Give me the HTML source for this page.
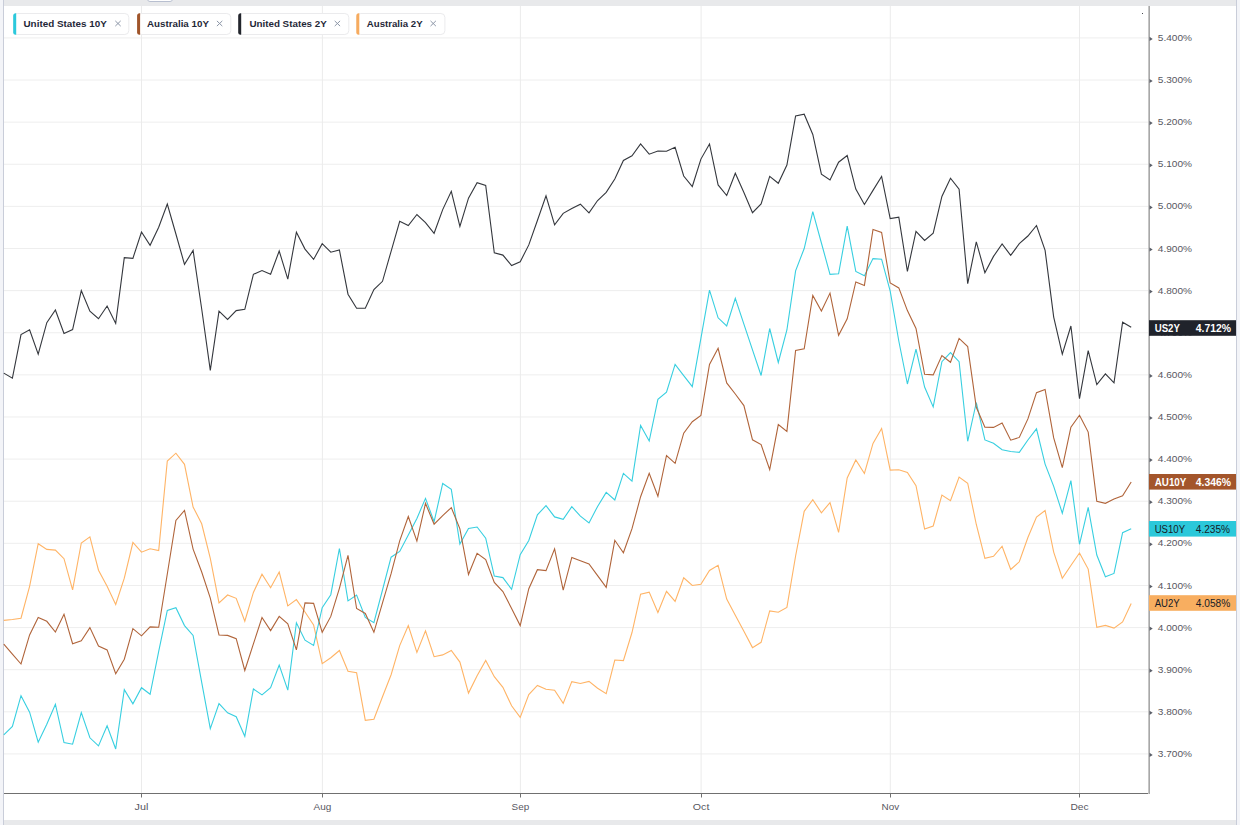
<!DOCTYPE html>
<html><head><meta charset="utf-8"><style>
html,body{margin:0;padding:0;}
body{width:1240px;height:825px;overflow:hidden;background:#f3f4f8;position:relative;font-family:"Liberation Sans",sans-serif;}
#top{position:absolute;left:4px;top:0;width:1232px;height:6px;background:#e8e9eb;}
#bot{position:absolute;left:4px;top:820px;width:1232px;height:5px;background:#e8e9eb;}
#panel{position:absolute;left:4px;top:6px;width:1232px;height:814px;background:#fff;}
#lb{position:absolute;left:3px;top:0;width:1px;height:825px;background:#c9cdd9;}
#rb{position:absolute;left:1236px;top:0;width:1px;height:825px;background:#c9cdd9;}
#tab{position:absolute;left:147px;top:-3px;width:24px;height:3px;background:#fff;border:1px solid #b8bfd0;border-radius:0 0 3px 3px;}
svg{position:absolute;left:0;top:0;}
.ax{font-family:"Liberation Sans",sans-serif;font-size:9.9px;fill:#58585f;}
.tg{font-family:"Liberation Sans",sans-serif;font-size:10px;}
.ch{font-family:"Liberation Sans",sans-serif;font-size:9.9px;font-weight:bold;fill:#1f2838;}
</style></head><body>
<div id="top"></div><div id="bot"></div>
<div id="panel"></div>
<div id="lb"></div><div id="rb"></div>
<div id="tab"></div>
<svg width="1240" height="825" viewBox="0 0 1240 825">
<line x1="4" y1="37.90" x2="1148" y2="37.90" stroke="#eeeeee" stroke-width="1"/>
<line x1="4" y1="80.02" x2="1148" y2="80.02" stroke="#eeeeee" stroke-width="1"/>
<line x1="4" y1="122.14" x2="1148" y2="122.14" stroke="#eeeeee" stroke-width="1"/>
<line x1="4" y1="164.26" x2="1148" y2="164.26" stroke="#eeeeee" stroke-width="1"/>
<line x1="4" y1="206.38" x2="1148" y2="206.38" stroke="#eeeeee" stroke-width="1"/>
<line x1="4" y1="248.50" x2="1148" y2="248.50" stroke="#eeeeee" stroke-width="1"/>
<line x1="4" y1="290.62" x2="1148" y2="290.62" stroke="#eeeeee" stroke-width="1"/>
<line x1="4" y1="332.74" x2="1148" y2="332.74" stroke="#eeeeee" stroke-width="1"/>
<line x1="4" y1="374.86" x2="1148" y2="374.86" stroke="#eeeeee" stroke-width="1"/>
<line x1="4" y1="416.98" x2="1148" y2="416.98" stroke="#eeeeee" stroke-width="1"/>
<line x1="4" y1="459.10" x2="1148" y2="459.10" stroke="#eeeeee" stroke-width="1"/>
<line x1="4" y1="501.22" x2="1148" y2="501.22" stroke="#eeeeee" stroke-width="1"/>
<line x1="4" y1="543.34" x2="1148" y2="543.34" stroke="#eeeeee" stroke-width="1"/>
<line x1="4" y1="585.46" x2="1148" y2="585.46" stroke="#eeeeee" stroke-width="1"/>
<line x1="4" y1="627.58" x2="1148" y2="627.58" stroke="#eeeeee" stroke-width="1"/>
<line x1="4" y1="669.70" x2="1148" y2="669.70" stroke="#eeeeee" stroke-width="1"/>
<line x1="4" y1="711.82" x2="1148" y2="711.82" stroke="#eeeeee" stroke-width="1"/>
<line x1="4" y1="753.94" x2="1148" y2="753.94" stroke="#eeeeee" stroke-width="1"/>
<line x1="141.5" y1="6" x2="141.5" y2="793" stroke="#ebebeb" stroke-width="1"/>
<line x1="322.4" y1="6" x2="322.4" y2="793" stroke="#ebebeb" stroke-width="1"/>
<line x1="520.4" y1="6" x2="520.4" y2="793" stroke="#ebebeb" stroke-width="1"/>
<line x1="701.1" y1="6" x2="701.1" y2="793" stroke="#ebebeb" stroke-width="1"/>
<line x1="890.3" y1="6" x2="890.3" y2="793" stroke="#ebebeb" stroke-width="1"/>
<line x1="1079.5" y1="6" x2="1079.5" y2="793" stroke="#ebebeb" stroke-width="1"/>
<polyline fill="none" stroke="#ffb466" stroke-width="1.1" stroke-linejoin="miter" points="3.8,620.4 12.4,619.5 21.0,618.2 29.6,586.3 38.2,543.7 46.8,549.4 55.4,550.1 64.0,558.7 72.6,589.8 81.3,543.0 89.9,536.8 98.5,570.2 107.1,586.3 115.7,604.5 124.3,578.2 132.9,542.5 141.5,552.2 150.1,548.7 158.7,550.6 167.3,461.0 175.9,453.2 184.5,464.3 193.1,507.0 201.7,523.8 210.3,558.4 219.0,602.9 227.6,595.0 236.2,598.3 244.8,621.2 253.4,592.4 262.0,574.2 270.6,587.7 279.2,572.0 287.8,605.9 296.4,599.6 305.0,612.0 313.6,625.0 322.2,663.7 330.8,657.7 339.4,650.5 348.0,671.2 356.6,672.8 365.3,720.3 373.9,719.3 382.5,696.8 391.1,674.7 399.7,645.6 408.3,625.5 416.9,652.4 425.5,630.8 434.1,656.7 442.7,654.9 451.3,650.5 459.9,662.1 468.5,693.1 477.1,675.7 485.7,660.5 494.3,676.7 502.9,687.3 511.6,705.8 520.2,717.4 528.8,694.5 537.4,685.4 546.0,689.3 554.6,690.2 563.2,703.4 571.8,681.6 580.4,683.5 589.0,681.4 597.6,688.2 606.2,693.6 614.8,660.0 623.4,660.6 632.0,632.5 640.6,594.2 649.2,592.1 657.9,612.5 666.5,591.3 675.1,601.4 683.7,577.8 692.3,585.5 700.9,584.2 709.5,570.5 718.1,565.3 726.7,599.1 735.3,615.2 743.9,631.2 752.5,647.6 761.1,642.3 769.7,610.9 778.3,612.3 786.9,607.4 795.6,556.0 804.2,511.3 812.8,499.6 821.4,512.8 830.0,502.6 838.6,532.3 847.2,477.9 855.8,459.9 864.4,473.5 873.0,443.4 881.6,428.5 890.2,470.1 898.8,469.7 907.4,472.4 916.0,485.7 924.6,529.0 933.2,526.0 941.9,495.0 950.5,500.6 959.1,477.1 967.7,483.2 976.3,524.5 984.9,558.4 993.5,556.3 1002.1,546.2 1010.7,569.5 1019.3,561.8 1027.9,537.5 1036.5,517.0 1045.1,510.5 1053.7,552.1 1062.3,578.2 1070.9,565.5 1079.5,553.0 1088.2,569.1 1096.8,627.3 1105.4,625.4 1114.0,628.1 1122.6,621.9 1131.2,603.5"/>
<polyline fill="none" stroke="#38cfe0" stroke-width="1.1" stroke-linejoin="miter" points="3.8,734.9 12.4,726.5 21.0,695.7 29.6,712.2 38.2,742.2 46.8,724.2 55.4,704.2 64.0,742.6 72.6,744.2 81.3,712.6 89.9,737.8 98.5,745.9 107.1,725.8 115.7,749.0 124.3,689.7 132.9,703.8 141.5,687.7 150.1,694.3 158.7,651.3 167.3,610.5 175.9,607.7 184.5,625.6 193.1,635.4 201.7,682.3 210.3,728.7 219.0,703.6 227.6,712.8 236.2,716.7 244.8,736.3 253.4,689.0 262.0,694.9 270.6,687.7 279.2,665.0 287.8,690.1 296.4,622.8 305.0,640.2 313.6,645.5 322.2,607.7 330.8,594.7 339.4,548.5 348.0,600.9 356.6,595.1 365.3,617.4 373.9,622.6 382.5,590.0 391.1,557.2 399.7,551.4 408.3,535.0 416.9,518.4 425.5,498.4 434.1,521.7 442.7,483.5 451.3,489.3 459.9,544.0 468.5,528.5 477.1,527.0 485.7,538.2 494.3,576.1 502.9,577.6 511.6,589.3 520.2,554.7 528.8,540.5 537.4,514.9 546.0,505.6 554.6,516.9 563.2,519.4 571.8,506.7 580.4,516.1 589.0,522.9 597.6,506.4 606.2,492.4 614.8,500.0 623.4,473.4 632.0,481.1 640.6,425.4 649.2,441.0 657.9,399.3 666.5,392.2 675.1,364.4 683.7,375.7 692.3,386.7 700.9,338.4 709.5,290.1 718.1,317.8 726.7,326.0 735.3,298.4 743.9,324.2 752.5,349.9 761.1,375.5 769.7,328.5 778.3,362.5 786.9,330.0 795.6,270.8 804.2,248.5 812.8,211.6 821.4,243.0 830.0,274.3 838.6,273.7 847.2,226.2 855.8,271.4 864.4,275.7 873.0,258.6 881.6,259.2 890.2,291.2 898.8,341.0 907.4,384.0 916.0,349.1 924.6,387.0 933.2,406.9 941.9,361.7 950.5,352.6 959.1,361.7 967.7,441.3 976.3,402.5 984.9,439.9 993.5,443.2 1002.1,449.8 1010.7,451.5 1019.3,452.4 1027.9,440.0 1036.5,428.8 1045.1,464.1 1053.7,486.4 1062.3,513.2 1070.9,480.6 1079.5,544.3 1088.2,507.4 1096.8,555.0 1105.4,576.7 1114.0,573.4 1122.6,532.7 1131.2,528.8"/>
<polyline fill="none" stroke="#b0643a" stroke-width="1.1" stroke-linejoin="miter" points="3.8,644.2 12.4,654.1 21.0,664.0 29.6,634.9 38.2,617.5 46.8,621.3 55.4,632.0 64.0,614.2 72.6,643.7 81.3,640.8 89.9,627.6 98.5,646.0 107.1,649.9 115.7,673.7 124.3,659.2 132.9,628.7 141.5,635.8 150.1,626.9 158.7,627.3 167.3,574.0 175.9,520.5 184.5,510.4 193.1,549.1 201.7,572.0 210.3,598.2 219.0,635.0 227.6,635.4 236.2,638.7 244.8,670.5 253.4,643.9 262.0,617.5 270.6,630.6 279.2,616.4 287.8,623.8 296.4,649.9 305.0,602.9 313.6,603.4 322.2,632.3 330.8,616.4 339.4,588.3 348.0,555.3 356.6,608.5 365.3,613.4 373.9,632.3 382.5,602.9 391.1,573.7 399.7,540.8 408.3,516.5 416.9,541.1 425.5,503.4 434.1,524.2 442.7,515.7 451.3,507.6 459.9,528.9 468.5,574.5 477.1,553.4 485.7,559.6 494.3,582.5 502.9,591.6 511.6,608.4 520.2,625.6 528.8,588.7 537.4,569.7 546.0,570.6 554.6,548.9 563.2,590.2 571.8,557.4 580.4,560.7 589.0,564.0 597.6,575.7 606.2,587.3 614.8,540.3 623.4,552.7 632.0,528.7 640.6,496.7 649.2,473.4 657.9,496.3 666.5,455.5 675.1,463.3 683.7,433.2 692.3,421.7 700.9,415.5 709.5,364.4 718.1,348.3 726.7,382.9 735.3,394.0 743.9,405.6 752.5,439.8 761.1,444.6 769.7,469.7 778.3,424.6 786.9,431.4 795.6,350.4 804.2,348.8 812.8,295.5 821.4,311.0 830.0,293.1 838.6,335.3 847.2,318.8 855.8,281.9 864.4,285.4 873.0,229.5 881.6,232.4 890.2,283.0 898.8,287.9 907.4,310.6 916.0,328.4 924.6,374.3 933.2,374.9 941.9,355.5 950.5,362.3 959.1,338.4 967.7,346.6 976.3,407.3 984.9,427.1 993.5,427.4 1002.1,423.1 1010.7,440.2 1019.3,437.4 1027.9,418.9 1036.5,392.7 1045.1,389.4 1053.7,437.9 1062.3,467.6 1070.9,427.2 1079.5,415.2 1088.2,432.1 1096.8,501.3 1105.4,503.3 1114.0,499.0 1122.6,495.7 1131.2,482.0"/>
<polyline fill="none" stroke="#34373d" stroke-width="1.1" stroke-linejoin="miter" points="3.8,373.1 12.4,378.2 21.0,334.6 29.6,329.7 38.2,354.2 46.8,322.7 55.4,310.0 64.0,333.4 72.6,329.5 81.3,290.6 89.9,311.2 98.5,318.7 107.1,306.0 115.7,323.4 124.3,257.7 132.9,258.3 141.5,232.0 150.1,245.3 158.7,227.3 167.3,204.0 175.9,234.0 184.5,264.4 193.1,250.4 201.7,309.0 210.3,370.4 219.0,311.2 227.6,319.4 236.2,310.6 244.8,309.3 253.4,274.3 262.0,270.5 270.6,274.3 279.2,251.0 287.8,279.2 296.4,232.2 305.0,249.1 313.6,259.4 322.2,243.7 330.8,252.2 339.4,250.0 348.0,294.2 356.6,308.2 365.3,308.2 373.9,289.6 382.5,281.3 391.1,251.3 399.7,221.3 408.3,225.5 416.9,214.5 425.5,222.7 434.1,233.3 442.7,209.6 451.3,191.3 459.9,226.4 468.5,198.2 477.1,182.7 485.7,185.5 494.3,252.7 502.9,255.1 511.6,265.5 520.2,261.8 528.8,244.9 537.4,220.5 546.0,195.8 554.6,224.9 563.2,213.3 571.8,208.5 580.4,204.2 589.0,212.9 597.6,200.5 606.2,192.4 614.8,179.1 623.4,160.4 632.0,155.8 640.6,144.0 649.2,154.2 657.9,151.1 666.5,151.3 675.1,147.3 683.7,176.0 692.3,186.5 700.9,159.1 709.5,144.0 718.1,184.9 726.7,195.5 735.3,173.3 743.9,192.5 752.5,212.7 761.1,204.0 769.7,176.4 778.3,183.3 786.9,165.1 795.6,116.0 804.2,114.2 812.8,134.5 821.4,174.2 830.0,180.0 838.6,162.2 847.2,155.5 855.8,189.1 864.4,204.5 873.0,190.4 881.6,176.4 890.2,218.5 898.8,217.1 907.4,271.3 916.0,231.3 924.6,240.5 933.2,233.1 941.9,196.4 950.5,178.2 959.1,189.1 967.7,283.6 976.3,241.8 984.9,272.7 993.5,256.4 1002.1,244.0 1010.7,255.4 1019.3,243.7 1027.9,236.0 1036.5,225.5 1045.1,250.4 1053.7,317.1 1062.3,354.1 1070.9,326.0 1079.5,398.6 1088.2,350.7 1096.8,384.6 1105.4,373.9 1114.0,382.8 1122.6,322.2 1131.2,327.3"/>
<line x1="4" y1="793.5" x2="1149" y2="793.5" stroke="#707070" stroke-width="1"/>
<rect x="1148" y="6" width="1" height="788" fill="#c6c6c6"/><rect x="1149" y="6" width="1" height="788" fill="#a8a8a8"/>
<line x1="141.5" y1="793" x2="141.5" y2="797.5" stroke="#707070" stroke-width="1"/>
<text x="134.6" y="810" class="ax" textLength="13.8" lengthAdjust="spacingAndGlyphs">Jul</text>
<line x1="322.5" y1="793" x2="322.5" y2="797.5" stroke="#707070" stroke-width="1"/>
<text x="313.5" y="810" class="ax" textLength="17.8" lengthAdjust="spacingAndGlyphs">Aug</text>
<line x1="520.5" y1="793" x2="520.5" y2="797.5" stroke="#707070" stroke-width="1"/>
<text x="511.6" y="810" class="ax" textLength="17.6" lengthAdjust="spacingAndGlyphs">Sep</text>
<line x1="701.5" y1="793" x2="701.5" y2="797.5" stroke="#707070" stroke-width="1"/>
<text x="692.8" y="810" class="ax" textLength="16.6" lengthAdjust="spacingAndGlyphs">Oct</text>
<line x1="890.5" y1="793" x2="890.5" y2="797.5" stroke="#707070" stroke-width="1"/>
<text x="881.5" y="810" class="ax" textLength="17.6" lengthAdjust="spacingAndGlyphs">Nov</text>
<line x1="1079.5" y1="793" x2="1079.5" y2="797.5" stroke="#707070" stroke-width="1"/>
<text x="1070.4" y="810" class="ax" textLength="18.2" lengthAdjust="spacingAndGlyphs">Dec</text>
<path d="M1149.5 36.8 L1152.7 38.9 L1149.5 41.0 Z" fill="#5b5f69"/>
<text x="1157.8" y="40.9" class="ax" textLength="34.2" lengthAdjust="spacingAndGlyphs">5.400%</text>
<path d="M1149.5 78.9 L1152.7 81.0 L1149.5 83.1 Z" fill="#5b5f69"/>
<text x="1157.8" y="83.0" class="ax" textLength="34.2" lengthAdjust="spacingAndGlyphs">5.300%</text>
<path d="M1149.5 121.0 L1152.7 123.1 L1149.5 125.2 Z" fill="#5b5f69"/>
<text x="1157.8" y="125.1" class="ax" textLength="34.2" lengthAdjust="spacingAndGlyphs">5.200%</text>
<path d="M1149.5 163.2 L1152.7 165.3 L1149.5 167.4 Z" fill="#5b5f69"/>
<text x="1157.8" y="167.3" class="ax" textLength="34.2" lengthAdjust="spacingAndGlyphs">5.100%</text>
<path d="M1149.5 205.3 L1152.7 207.4 L1149.5 209.5 Z" fill="#5b5f69"/>
<text x="1157.8" y="209.4" class="ax" textLength="34.2" lengthAdjust="spacingAndGlyphs">5.000%</text>
<path d="M1149.5 247.4 L1152.7 249.5 L1149.5 251.6 Z" fill="#5b5f69"/>
<text x="1157.8" y="251.5" class="ax" textLength="34.2" lengthAdjust="spacingAndGlyphs">4.900%</text>
<path d="M1149.5 289.5 L1152.7 291.6 L1149.5 293.7 Z" fill="#5b5f69"/>
<text x="1157.8" y="293.6" class="ax" textLength="34.2" lengthAdjust="spacingAndGlyphs">4.800%</text>
<path d="M1149.5 331.6 L1152.7 333.7 L1149.5 335.8 Z" fill="#5b5f69"/>
<text x="1157.8" y="335.7" class="ax" textLength="34.2" lengthAdjust="spacingAndGlyphs">4.700%</text>
<path d="M1149.5 373.8 L1152.7 375.9 L1149.5 378.0 Z" fill="#5b5f69"/>
<text x="1157.8" y="377.9" class="ax" textLength="34.2" lengthAdjust="spacingAndGlyphs">4.600%</text>
<path d="M1149.5 415.9 L1152.7 418.0 L1149.5 420.1 Z" fill="#5b5f69"/>
<text x="1157.8" y="420.0" class="ax" textLength="34.2" lengthAdjust="spacingAndGlyphs">4.500%</text>
<path d="M1149.5 458.0 L1152.7 460.1 L1149.5 462.2 Z" fill="#5b5f69"/>
<text x="1157.8" y="462.1" class="ax" textLength="34.2" lengthAdjust="spacingAndGlyphs">4.400%</text>
<path d="M1149.5 500.1 L1152.7 502.2 L1149.5 504.3 Z" fill="#5b5f69"/>
<text x="1157.8" y="504.2" class="ax" textLength="34.2" lengthAdjust="spacingAndGlyphs">4.300%</text>
<path d="M1149.5 542.2 L1152.7 544.3 L1149.5 546.4 Z" fill="#5b5f69"/>
<text x="1157.8" y="546.3" class="ax" textLength="34.2" lengthAdjust="spacingAndGlyphs">4.200%</text>
<path d="M1149.5 584.4 L1152.7 586.5 L1149.5 588.6 Z" fill="#5b5f69"/>
<text x="1157.8" y="588.5" class="ax" textLength="34.2" lengthAdjust="spacingAndGlyphs">4.100%</text>
<path d="M1149.5 626.5 L1152.7 628.6 L1149.5 630.7 Z" fill="#5b5f69"/>
<text x="1157.8" y="630.6" class="ax" textLength="34.2" lengthAdjust="spacingAndGlyphs">4.000%</text>
<path d="M1149.5 668.6 L1152.7 670.7 L1149.5 672.8 Z" fill="#5b5f69"/>
<text x="1157.8" y="672.7" class="ax" textLength="34.2" lengthAdjust="spacingAndGlyphs">3.900%</text>
<path d="M1149.5 710.7 L1152.7 712.8 L1149.5 714.9 Z" fill="#5b5f69"/>
<text x="1157.8" y="714.8" class="ax" textLength="34.2" lengthAdjust="spacingAndGlyphs">3.800%</text>
<path d="M1149.5 752.8 L1152.7 754.9 L1149.5 757.0 Z" fill="#5b5f69"/>
<text x="1157.8" y="756.9" class="ax" textLength="34.2" lengthAdjust="spacingAndGlyphs">3.700%</text>
<rect x="1149" y="320.2" width="87" height="15.6" fill="#20232b"/>
<text x="1154.7" y="332.1" class="tg" fill="#ffffff" font-weight="bold" textLength="25.2" lengthAdjust="spacingAndGlyphs">US2Y</text>
<text x="1195.8" y="332.1" class="tg" fill="#ffffff" font-weight="bold" textLength="35.2" lengthAdjust="spacingAndGlyphs">4.712%</text>
<rect x="1149" y="474.0" width="87" height="15.6" fill="#a3552b"/>
<text x="1154.7" y="485.9" class="tg" fill="#ffffff" font-weight="bold" textLength="31.7" lengthAdjust="spacingAndGlyphs">AU10Y</text>
<text x="1195.8" y="485.9" class="tg" fill="#ffffff" font-weight="bold" textLength="35.2" lengthAdjust="spacingAndGlyphs">4.346%</text>
<rect x="1149" y="521.0" width="87" height="15.6" fill="#2bc8da"/>
<text x="1154.7" y="532.9" class="tg" fill="#161b26" font-weight="normal" textLength="30.4" lengthAdjust="spacingAndGlyphs">US10Y</text>
<text x="1195.8" y="532.9" class="tg" fill="#161b26" font-weight="normal" textLength="34.2" lengthAdjust="spacingAndGlyphs">4.235%</text>
<rect x="1149" y="595.2" width="87" height="15.6" fill="#f8ae60"/>
<text x="1154.7" y="607.1" class="tg" fill="#161b26" font-weight="normal" textLength="25.0" lengthAdjust="spacingAndGlyphs">AU2Y</text>
<text x="1195.8" y="607.1" class="tg" fill="#161b26" font-weight="normal" textLength="34.5" lengthAdjust="spacingAndGlyphs">4.058%</text>
<rect x="13.7" y="13.5" width="115.1" height="21" rx="4" fill="#fff" stroke="#ebebed" stroke-width="1"/>
<path d="M16.2 13.3 L16.2 34.7 L15.7 34.7 A2.5 2.5 0 0 1 13.2 32.2 L13.2 15.8 A2.5 2.5 0 0 1 15.7 13.3 Z" fill="#2bc9dc"/>
<text x="23.5" y="27.2" class="ch" textLength="83.3" lengthAdjust="spacingAndGlyphs">United States 10Y</text>
<path d="M115.3 20.9 L120.7 26.1 M120.7 20.9 L115.3 26.1" stroke="#8d97a8" stroke-width="1"/>
<rect x="137.6" y="13.5" width="93.2" height="21" rx="4" fill="#fff" stroke="#ebebed" stroke-width="1"/>
<path d="M140.1 13.3 L140.1 34.7 L139.6 34.7 A2.5 2.5 0 0 1 137.1 32.2 L137.1 15.8 A2.5 2.5 0 0 1 139.6 13.3 Z" fill="#a0552a"/>
<text x="147.0" y="27.2" class="ch" textLength="61.9" lengthAdjust="spacingAndGlyphs">Australia 10Y</text>
<path d="M216.9 20.9 L222.3 26.1 M222.3 20.9 L216.9 26.1" stroke="#8d97a8" stroke-width="1"/>
<rect x="238.7" y="13.5" width="110.1" height="21" rx="4" fill="#fff" stroke="#ebebed" stroke-width="1"/>
<path d="M241.2 13.3 L241.2 34.7 L240.7 34.7 A2.5 2.5 0 0 1 238.2 32.2 L238.2 15.8 A2.5 2.5 0 0 1 240.7 13.3 Z" fill="#22252c"/>
<text x="249.4" y="27.2" class="ch" textLength="77.4" lengthAdjust="spacingAndGlyphs">United States 2Y</text>
<path d="M334.7 20.9 L340.1 26.1 M340.1 20.9 L334.7 26.1" stroke="#8d97a8" stroke-width="1"/>
<rect x="356.8" y="13.5" width="88.1" height="21" rx="4" fill="#fff" stroke="#ebebed" stroke-width="1"/>
<path d="M359.3 13.3 L359.3 34.7 L358.8 34.7 A2.5 2.5 0 0 1 356.3 32.2 L356.3 15.8 A2.5 2.5 0 0 1 358.8 13.3 Z" fill="#f7ab5e"/>
<text x="366.8" y="27.2" class="ch" textLength="55.8" lengthAdjust="spacingAndGlyphs">Australia 2Y</text>
<path d="M430.5 20.9 L435.9 26.1 M435.9 20.9 L430.5 26.1" stroke="#8d97a8" stroke-width="1"/>
<rect x="1142" y="13" width="1" height="1" fill="#44474e"/>
</svg>
</body></html>
